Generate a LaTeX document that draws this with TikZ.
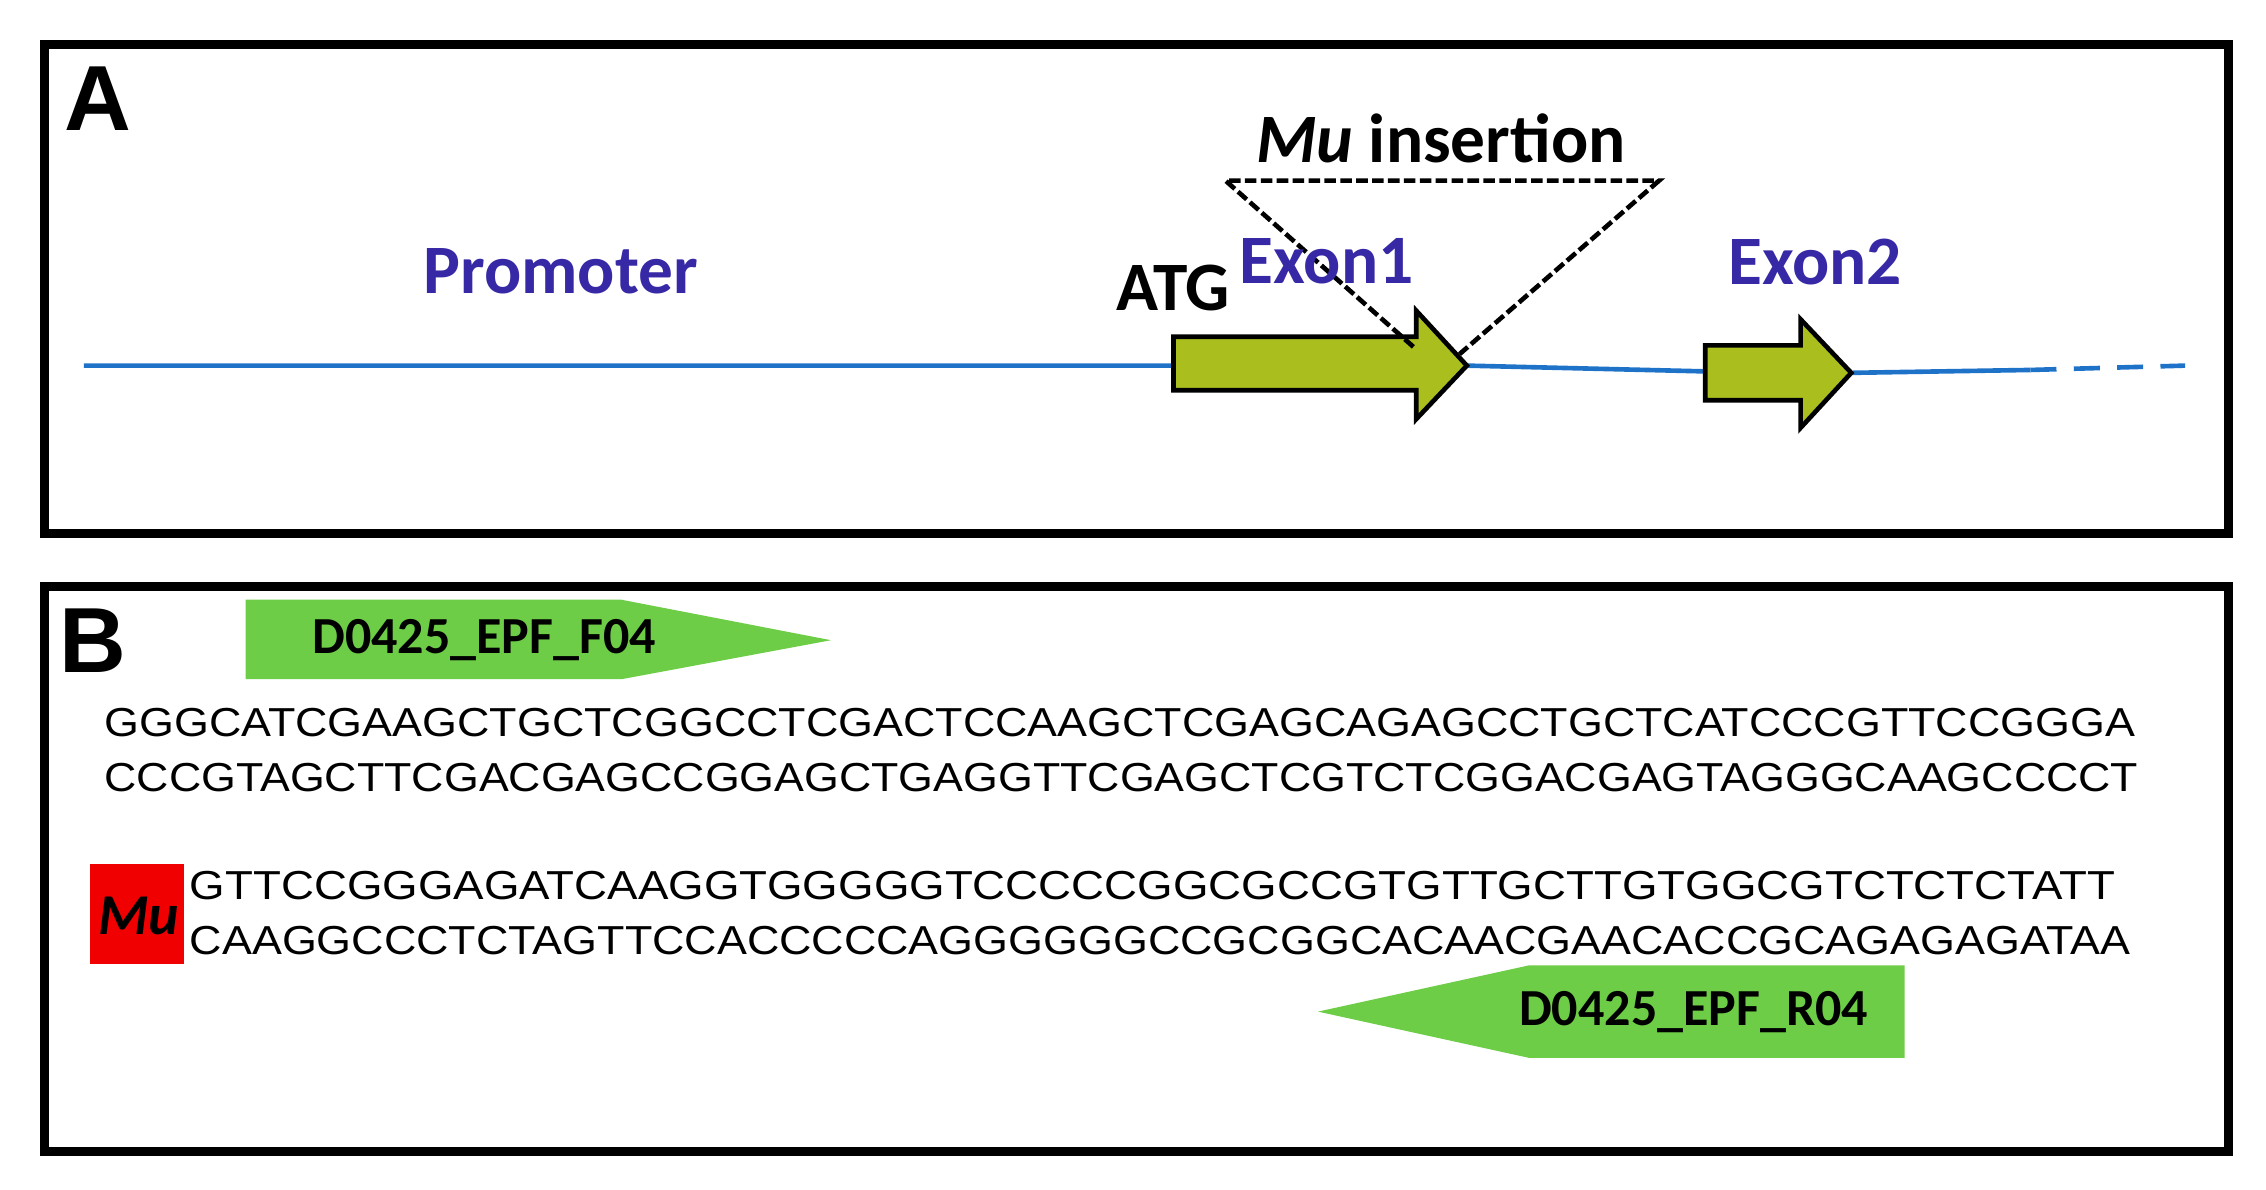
\documentclass[tikz,border=0pt]{standalone}
\usepackage{fontspec}
\setmainfont{Liberation Sans}
\newfontfamily\carl{Carlito}
\definecolor{lblue}{RGB}{30,115,200}
\definecolor{lpurp}{RGB}{55,40,165}
\definecolor{olive}{RGB}{170,190,30}
\definecolor{pgreen}{RGB}{110,205,70}
\definecolor{mured}{RGB}{240,0,0}
\newcommand{\seq}[2]{\resizebox{#1pt}{\height}{\fontsize{14}{16}\selectfont #2}}
\begin{document}
\begin{tikzpicture}[x=0.5pt,y=-0.5pt,
  frame/.style={draw=black,line width=3pt},
  lab/.style={font=\carl\bfseries\fontsize{24}{28}\selectfont,inner sep=0pt},
  exon/.style={draw=black,line width=1.6pt,fill=olive,line join=miter},
  primer/.style={fill=pgreen,draw=none},
  plab/.style={font=\carl\bfseries\fontsize{18}{22}\selectfont,inner sep=0pt},
  dna/.style={anchor=west,inner sep=0pt}]
\useasboundingbox (0,0) rectangle (1568,823);
% Panel A
\draw[frame] (31,31) rectangle (1542,369);
\node[font=\bfseries\fontsize{32}{36}\selectfont,inner sep=0pt] (lA) at (68,68) {A};
\coordinate (l0) at (58,253);
\coordinate (l1) at (812,253);
\coordinate (l2) at (1015,253);
\coordinate (l3) at (1180,257);
\coordinate (l4) at (1281,258);
\coordinate (l5) at (1405,256);
\coordinate (l6) at (1512,253);
\draw[lblue,line width=1.6pt] (l0)--(l1) (l2)--(l3) (l4)--(l5);
\draw[lblue,line width=1.6pt,dash pattern=on 9pt off 6pt] (l5)--(l6);
\draw[exon] (812,233)--(980,233)--(980,215)--(1015,253)--(980,290)--(980,270)--(812,270)--cycle;
\draw[exon] (1180,239)--(1246,239)--(1246,221)--(1281,258)--(1246,296)--(1246,277)--(1180,277)--cycle;
\coordinate (t1) at (848,125);
\coordinate (t2) at (1148,125);
\coordinate (b1) at (978,240);
\coordinate (b2) at (1010,245);
\draw[black,line width=1.6pt,dash pattern=on 4pt off 1.5pt] (b1)--(t1)--(t2)--(b2);
\node[lab] (mu) at (997,96) {\textit{Mu} insertion};
\node[lab,lpurp] (prom) at (388,188) {Promoter};
\node[lab,lpurp] (ex1) at (918,181) {Exon1};
\node[lab,lpurp] (ex2) at (1256,181) {Exon2};
\node[lab] (atg) at (812,199) {ATG};
% Panel B
\draw[frame] (31,406) rectangle (1542,797);
\node[font=\bfseries\fontsize{32}{36}\selectfont,inner sep=0pt] (lB) at (64,443) {B};
\fill[primer] (170,415)--(430,415)--(575,443)--(430,470)--(170,470)--cycle;
\node[plab] (f04) at (335,443) {D0425\_EPF\_F04};
\fill[primer] (1318,668)--(1058,668)--(912,700)--(1058,732)--(1318,732)--cycle;
\node[plab] (r04) at (1172,700) {D0425\_EPF\_R04};
\node[dna] (s1) at (72,500) {\seq{702.5}{GGGCATCGAAGCTGCTCGGCCTCGACTCCAAGCTCGAGCAGAGCCTGCTCATCCCGTTCCGGGA}};
\node[dna] (s2) at (72,538) {\seq{703.5}{CCCGTAGCTTCGACGAGCCGGAGCTGAGGTTCGAGCTCGTCTCGGACGAGTAGGGCAAGCCCCT}};
\node[dna] (s3) at (131,613) {\seq{666}{GTTCCGGGAGATCAAGGTGGGGGTCCCCCGGCGCCGTGTTGCTTGTGGCGTCTCTCTATT}};
\node[dna] (s4) at (131,651) {\seq{671.5}{CAAGGCCCTCTAGTTCCACCCCCAGGGGGGCCGCGGCACAACGAACACCGCAGAGAGATAA}};
\fill[mured] (62,598) rectangle (127,667);
\node[font=\carl\bfseries\itshape\fontsize{20}{24}\selectfont,inner sep=0pt] (mub) at (96,634) {Mu};
\end{tikzpicture}
\end{document}
